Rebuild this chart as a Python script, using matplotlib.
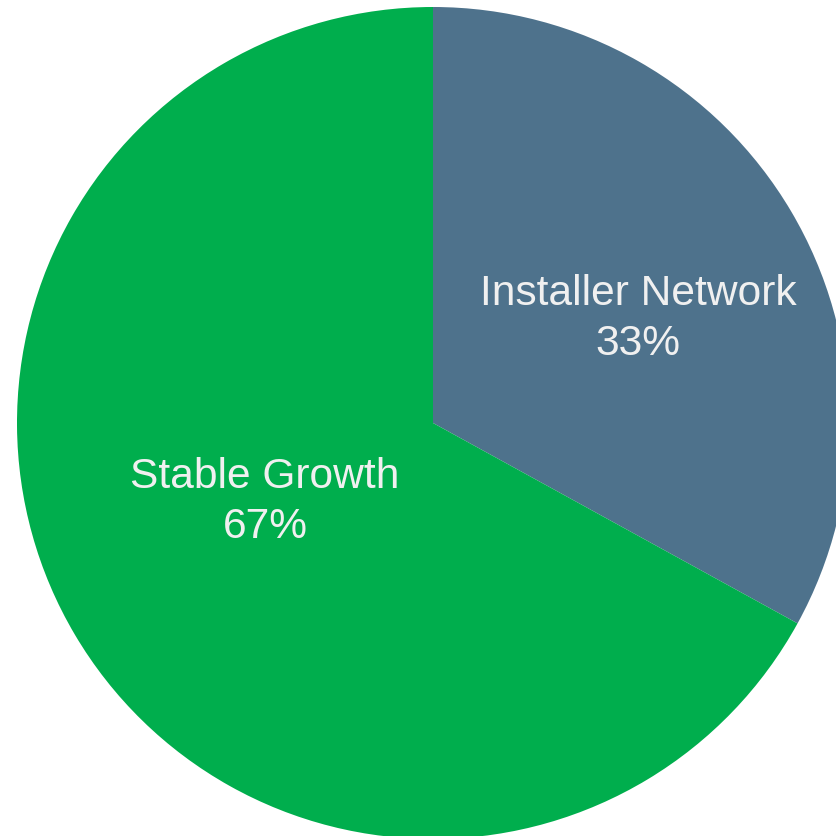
import matplotlib.pyplot as plt

labels = ["Installer Network", "Stable Growth"]
shares = [33, 67]
colors = ["#4E728C", "#00AE4D"]

W = H = 836
CX, CY, R = 433, 423, 416  # pie centre and radius in pixels

plt.rcParams["font.family"] = ["Liberation Sans", "DejaVu Sans"]

fig = plt.figure(figsize=(W / 100, H / 100), dpi=100)
ax = fig.add_axes([0, 0, 1, 1])

wedges, _ = ax.pie(shares, colors=colors, startangle=90, counterclock=False,
                   radius=1, center=(0, 0),
                   wedgeprops=dict(edgecolor="none", linewidth=0))

# label anchors (pixel positions of the text block centres)
label_px = [(638, 319), (265, 502)]
for name, val, (px, py) in zip(labels, shares, label_px):
    ax.text((px - CX) / R, (CY - py) / R, f"{name}\n{val}%",
            ha="center", va="center", color="#F0F0F0", fontsize=30.6,
            linespacing=1.3)

ax.set_xlim(-CX / R, (W - CX) / R)
ax.set_ylim(-(H - CY) / R, CY / R)
ax.set_aspect("equal")
ax.axis("off")

fig.savefig("out.png", dpi=100)
